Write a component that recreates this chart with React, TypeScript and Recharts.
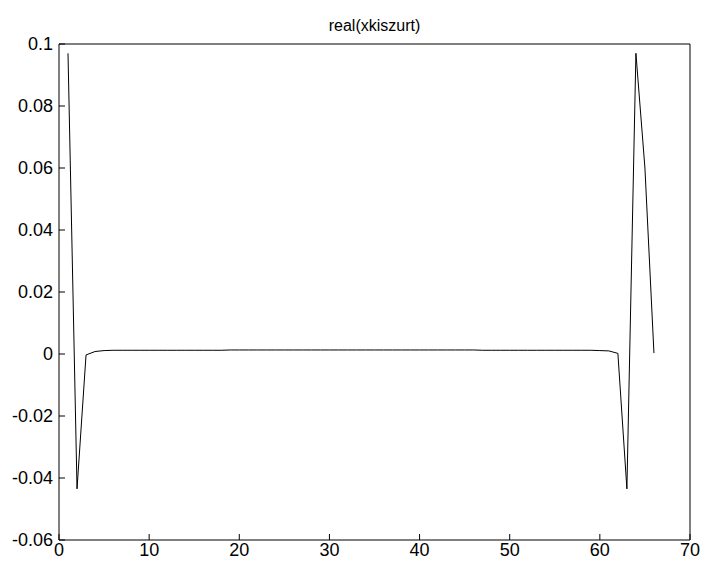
import React from 'react';
import { LineChart, Line, XAxis, YAxis } from 'recharts';

// sample index 1..66 and real part of the filtered signal
const sampleIdx = [
  1, 2, 3, 4, 5, 6, 7, 8, 9, 10, 11, 12, 13, 14, 15, 16, 17, 18, 19, 20, 21, 22,
  23, 24, 25, 26, 27, 28, 29, 30, 31, 32, 33, 34, 35, 36, 37, 38, 39, 40, 41, 42,
  43, 44, 45, 46, 47, 48, 49, 50, 51, 52, 53, 54, 55, 56, 57, 58, 59, 60, 61, 62,
  63, 64, 65, 66,
];
const realValues = [
  0.097, -0.0435, -0.0003, 0.0008, 0.0011, 0.0012, 0.0012, 0.0012, 0.0012, 0.0012,
  0.0012, 0.0012, 0.0012, 0.0012, 0.0012, 0.0012, 0.0012, 0.0012, 0.0013, 0.0013,
  0.0013, 0.0013, 0.0013, 0.0013, 0.0013, 0.0013, 0.0013, 0.0013, 0.0013, 0.0013,
  0.0013, 0.0013, 0.0013, 0.0013, 0.0013, 0.0013, 0.0013, 0.0013, 0.0013, 0.0013,
  0.0013, 0.0013, 0.0013, 0.0013, 0.0013, 0.0013, 0.0012, 0.0012, 0.0012, 0.0012,
  0.0012, 0.0012, 0.0012, 0.0012, 0.0012, 0.0012, 0.0012, 0.0012, 0.0012, 0.0011,
  0.001, 0.0002, -0.0435, 0.097, 0.06, 0.0003,
];

const xTicks = [0, 10, 20, 30, 40, 50, 60, 70];
const yTicks = [-0.06, -0.04, -0.02, 0, 0.02, 0.04, 0.06, 0.08, 0.1];

const chartData = sampleIdx.map((x, i) => ({ x, y: realValues[i] }));

const font = '"Liberation Sans", Arial, sans-serif';
const tickStyle = { fill: '#000', fontSize: 18, fontFamily: font };

const App: React.FC = () => {
  return (
    <div style={{ position: 'absolute', left: 0, top: 0, width: 705, height: 566, background: '#fff' }}>
      <LineChart
        width={705}
        height={566}
        data={chartData}
        margin={{ top: 34, right: 5, bottom: 0, left: 0 }}
      >
        <text
          x={374.5}
          y={31}
          textAnchor="middle"
          style={{ fontSize: 16, fontFamily: font, fill: '#000' }}
        >
          real(xkiszurt)
        </text>
        <XAxis
          xAxisId="bottom"
          type="number"
          dataKey="x"
          domain={[0, 70]}
          ticks={xTicks}
          height={26}
          tickSize={-6}
          tickMargin={9}
          stroke="#000"
          tick={tickStyle}
          interval={0}
        />
        <XAxis
          xAxisId="top"
          orientation="top"
          type="number"
          domain={[0, 70]}
          ticks={xTicks}
          height={10}
          tickSize={-6}
          stroke="#000"
          tick={false}
        />
        <YAxis
          yAxisId="left"
          type="number"
          domain={[-0.06, 0.1]}
          ticks={yTicks}
          width={59}
          tickSize={-6}
          tickMargin={12}
          stroke="#000"
          tick={tickStyle}
          interval={0}
        />
        <YAxis
          yAxisId="right"
          orientation="right"
          type="number"
          domain={[-0.06, 0.1]}
          ticks={yTicks}
          width={10}
          tickSize={-6}
          stroke="#000"
          tick={false}
        />
        <Line
          xAxisId="bottom"
          yAxisId="left"
          type="linear"
          dataKey="y"
          stroke="#000"
          strokeWidth={1}
          dot={false}
          isAnimationActive={false}
        />
      </LineChart>
    </div>
  );
};

export default App;
